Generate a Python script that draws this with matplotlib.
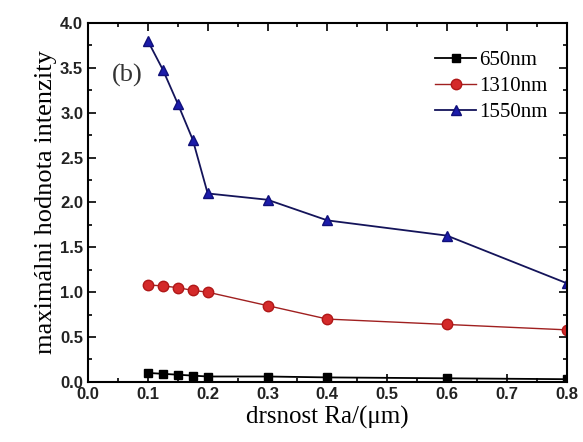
import matplotlib
matplotlib.use("Agg")
import matplotlib.pyplot as plt
from matplotlib.ticker import MultipleLocator

x = [0.1, 0.125, 0.15, 0.175, 0.2, 0.3, 0.4, 0.6, 0.8]
y650 = [0.10, 0.09, 0.08, 0.07, 0.06, 0.06, 0.05, 0.04, 0.03]
y1310 = [1.08, 1.07, 1.05, 1.02, 1.00, 0.85, 0.70, 0.64, 0.58]
y1550 = [3.80, 3.48, 3.10, 2.70, 2.10, 2.03, 1.80, 1.63, 1.10]
labels = ["650nm", "1310nm", "1550nm"]

fig = plt.figure(figsize=(5.83, 4.42), dpi=100)
ax = fig.add_axes([0.151, 0.136, 0.821, 0.812])

ax.plot(x, y650, color="black", marker="s", markersize=6, lw=1.3, label=labels[0])
ax.plot(x, y1310, color="#a02020", marker="o", markersize=7.5, lw=1.0,
        markerfacecolor="#d42a2a", markeredgecolor="#b01818", label=labels[1])
ax.plot(x, y1550, color="#14145a", marker="^", markersize=7.5, lw=1.3,
        markerfacecolor="#1c1caa", markeredgecolor="#10107a", label=labels[2])

ax.set_xlim(0, 0.8)
ax.set_ylim(0, 4.0)
ax.xaxis.set_major_locator(MultipleLocator(0.1))
ax.xaxis.set_minor_locator(MultipleLocator(0.05))
ax.yaxis.set_major_locator(MultipleLocator(0.5))
ax.yaxis.set_minor_locator(MultipleLocator(0.25))
ax.tick_params(which="both", direction="in", top=True, right=True, width=1.2)
ax.tick_params(which="major", length=6)
ax.tick_params(which="minor", length=3)
for s in ax.spines.values():
    s.set_linewidth(1.5)

ax.set_xticks(ax.get_xticks())
ax.set_yticks(ax.get_yticks())
ax.set_xticklabels([f"{v:.1f}" for v in ax.get_xticks()])
ax.set_yticklabels([f"{v:.1f}" for v in ax.get_yticks()])
ax.set_xlim(0, 0.8)
ax.set_ylim(0, 4.0)
for lab in ax.get_xticklabels() + ax.get_yticklabels():
    lab.set_fontfamily("Liberation Sans")
    lab.set_fontweight("bold")
    lab.set_fontsize(12)
    lab.set_color("#222222")

ax.set_xlabel("drsnost Ra/(μm)", fontfamily="Liberation Serif", fontsize=18, labelpad=3)
ax.set_ylabel("maximálni hodnota intenzity", fontfamily="Liberation Serif", fontsize=19, labelpad=2)

ax.text(0.05, 0.855, "(b)", transform=ax.transAxes, fontfamily="Liberation Serif",
        fontsize=19, va="center", ha="left", color="#333333")

leg = ax.legend(loc="upper right", bbox_to_anchor=(1.0, 0.975), frameon=False,
                prop={"family": "Liberation Serif", "size": 15},
                handlelength=2.0, handletextpad=0.15, labelspacing=0.3,
                borderaxespad=0.5)

fig.savefig("out.png", dpi=100)
